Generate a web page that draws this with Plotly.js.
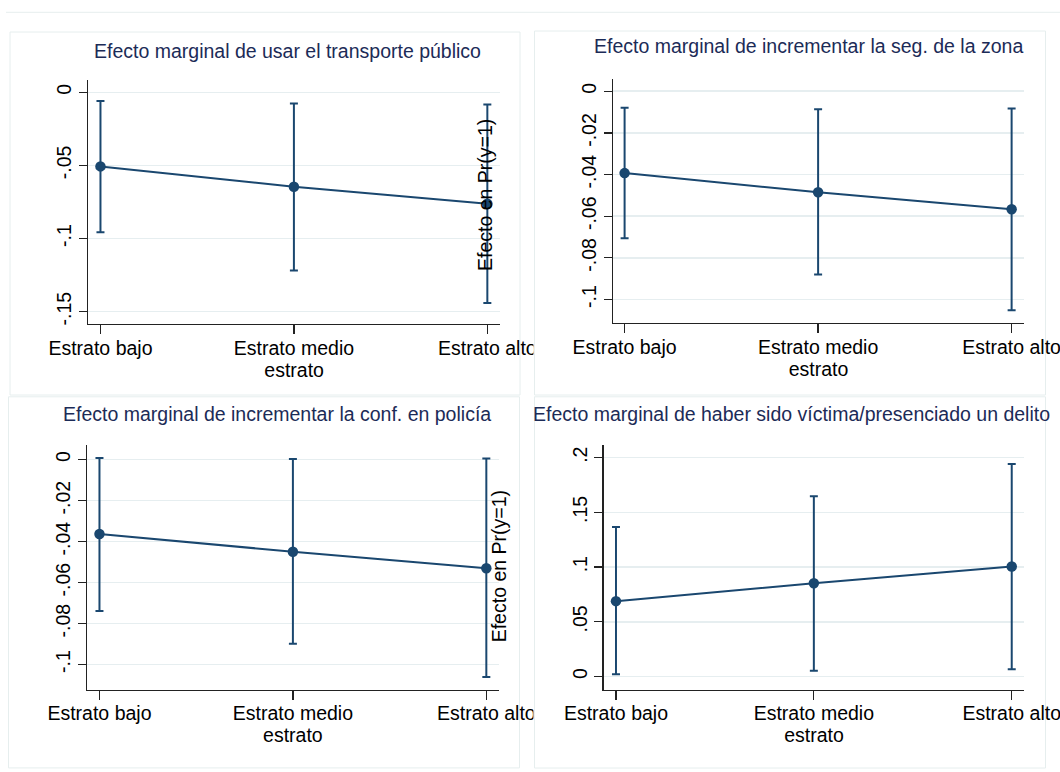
<!DOCTYPE html>
<html>
<head>
<meta charset="utf-8">
<script src="https://cdn.plot.ly/plotly-3.0.1.min.js"></script>
<style>html,body{margin:0;padding:0;background:#fff;}#chart{width:1060px;height:772px;}</style>
</head>
<body>
<div id="chart"></div>
<script>
// ---- data ----
const categories = ["Estrato bajo", "Estrato medio", "Estrato alto"];
const xAxisTitle = "estrato";
const yAxisTitle = "Efecto en Pr(y=1)";
const titles = [
  "Efecto marginal de usar el transporte público",
  "Efecto marginal de incrementar la seg. de la zona",
  "Efecto marginal de incrementar la conf. en policía",
  "Efecto marginal de haber sido víctima/presenciado un delito"
];
const transporteEst = [-0.0507, -0.0646, -0.0762];
const transporteLo  = [-0.0958, -0.1220, -0.1442];
const transporteHi  = [-0.0060, -0.0076, -0.0083];
const seguridadEst = [-0.0393, -0.0485, -0.0567];
const seguridadLo  = [-0.0706, -0.0880, -0.1052];
const seguridadHi  = [-0.0079, -0.0086, -0.0083];
const policiaEst = [-0.0363, -0.0450, -0.0530];
const policiaLo  = [-0.0739, -0.0899, -0.1061];
const policiaHi  = [0.0008, 0.0003, 0.0005];
const victimaEst = [0.0689, 0.0852, 0.1006];
const victimaLo  = [0.0022, 0.0053, 0.0068];
const victimaHi  = [0.1365, 0.1648, 0.1942];
const ticks1 = [0, -0.05, -0.1, -0.15];
const tickText1 = ["0", "-.05", "-.1", "-.15"];
const ticks2 = [0, -0.02, -0.04, -0.06, -0.08, -0.1];
const tickText2 = ["0", "-.02", "-.04", "-.06", "-.08", "-.1"];
const ticks4 = [0, 0.05, 0.1, 0.15, 0.2];
const tickText4 = ["0", ".05", ".1", ".15", ".2"];

// ---- layout helpers ----
const W = 1060, H = 772;
const PX = x => x / W;
const PY = y => 1 - y / H;
const FONT = "Liberation Sans, Arial, sans-serif";
const NAVY = "#1a476f";
const FS = 19.5;

const panels = [
  {est: transporteEst, lo: transporteLo, hi: transporteHi, ticks: ticks1, tt: tickText1,
   xd: [87.9, 500.3], yd: [80.4, 323.8], xr: [-0.065, 2.067], yr: [-0.1584, 0.00815],
   title: [287.3, 50.7], box: [10, 32, 520, 395]},
  {est: seguridadEst, lo: seguridadLo, hi: seguridadHi, ticks: ticks2, tt: tickText2,
   xd: [612.8, 1024.2], yd: [79.4, 322.8], xr: [-0.061, 2.065], yr: [-0.1112, 0.0057],
   title: [808, 45.6], box: [534.5, 31, 1045.5, 395]},
  {est: policiaEst, lo: policiaLo, hi: policiaHi, ticks: ticks2, tt: tickText2,
   xd: [86.9, 498.9], yd: [444.8, 689.5], xr: [-0.065, 2.065], yr: [-0.1122, 0.0072],
   title: [276.7, 414.3], box: [8.5, 396.8, 519.5, 767.9]},
  {est: victimaEst, lo: victimaLo, hi: victimaHi, ticks: ticks4, tt: tickText4,
   xd: [603.7, 1024.2], yd: [445.1, 689.5], xr: [-0.062, 2.063], yr: [-0.0118, 0.2114],
   title: [791.1, 414.3], box: [534.5, 396.8, 1045.5, 768]}
];

const data = [];
const layout = {
  width: W, height: H,
  margin: {l: 0, r: 0, t: 0, b: 0},
  paper_bgcolor: "#ffffff", plot_bgcolor: "#ffffff",
  showlegend: false,
  font: {family: FONT, size: FS, color: "#000"},
  shapes: [], annotations: []
};

// outer graph line
layout.shapes.push({type: "line", xref: "paper", yref: "paper", layer: "below",
  x0: PX(6), x1: PX(1060), y0: PY(12.3), y1: PY(12.3), line: {color: "#e6eeee", width: 1}});

panels.forEach((p, i) => {
  const n = i + 1;
  const xa = "xaxis" + (n === 1 ? "" : n), ya = "yaxis" + (n === 1 ? "" : n);
  const xref = "x" + (n === 1 ? "" : n), yref = "y" + (n === 1 ? "" : n);
  data.push({
    type: "scatter", mode: "lines+markers", xaxis: xref, yaxis: yref,
    x: categories, y: p.est,
    line: {color: NAVY, width: 2},
    marker: {color: NAVY, size: 10.5},
    error_y: {type: "data", symmetric: false,
      array: p.hi.map((h, k) => h - p.est[k]),
      arrayminus: p.lo.map((l, k) => p.est[k] - l),
      color: NAVY, thickness: 2, width: 4},
    hoverinfo: "skip"
  });
  layout[xa] = {
    domain: [PX(p.xd[0]), PX(p.xd[1])], anchor: yref, type: "category",
    range: p.xr, showgrid: false, zeroline: false,
    showline: true, linecolor: "#222", linewidth: 1.3,
    ticks: "outside", ticklen: 9, tickcolor: "#222", tickwidth: 1.3,
    ticklabelstandoff: -3,
    tickfont: {family: FONT, size: FS, color: "#000"},
    title: {text: xAxisTitle, font: {family: FONT, size: FS, color: "#000"}, standoff: 0},
    automargin: false, fixedrange: true
  };
  layout[ya] = {
    domain: [PY(p.yd[1]), PY(p.yd[0])], anchor: xref,
    range: p.yr, showgrid: true, gridcolor: "#e6eef0", gridwidth: 1.6,
    zeroline: false, showline: true, linecolor: "#222", linewidth: 1.3,
    tickmode: "array", tickvals: p.ticks, ticktext: p.tt, tickangle: -90,
    ticks: "outside", ticklen: 8, tickcolor: "#222", tickwidth: 1.3,
    tickfont: {family: FONT, size: FS, color: "#000"},
    automargin: false, fixedrange: true
  };
  // panel border
  layout.shapes.push({type: "rect", xref: "paper", yref: "paper", layer: "below",
    x0: PX(p.box[0]), x1: PX(p.box[2]), y0: PY(p.box[3]), y1: PY(p.box[1]),
    line: {color: "#e6eeee", width: 1}, fillcolor: "rgba(0,0,0,0)"});
  // title
  layout.annotations.push({xref: "paper", yref: "paper", x: PX(p.title[0]), y: PY(p.title[1]),
    xanchor: "center", yanchor: "middle", showarrow: false, text: titles[i],
    font: {family: FONT, size: FS, color: "#1c2b57"}});
});

// clip overflowing "Estrato alto" labels where the right panels start
[[333, 362], [698, 728]].forEach(r => {
  layout.shapes.push({type: "rect", xref: "paper", yref: "paper", layer: "above",
    x0: PX(533.4), x1: PX(560), y0: PY(r[1]), y1: PY(r[0]),
    line: {width: 0}, fillcolor: "#ffffff"});
});
// redraw left borders of right panels over the clip
[[31, 395], [396.8, 768]].forEach(r => {
  layout.shapes.push({type: "line", xref: "paper", yref: "paper", layer: "above",
    x0: PX(534.5), x1: PX(534.5), y0: PY(r[1]), y1: PY(r[0]),
    line: {color: "#e6eeee", width: 1}});
});

// stray y-axis titles overlapping the left panels
[[485, 195], [499.3, 566]].forEach(pos => {
  layout.annotations.push({xref: "paper", yref: "paper", x: PX(pos[0]), y: PY(pos[1]),
    xanchor: "center", yanchor: "middle", showarrow: false, text: yAxisTitle, textangle: -90,
    font: {family: FONT, size: FS, color: "#000"}});
});

Plotly.newPlot("chart", data, layout, {staticPlot: true, displayModeBar: false});
</script>
</body>
</html>
